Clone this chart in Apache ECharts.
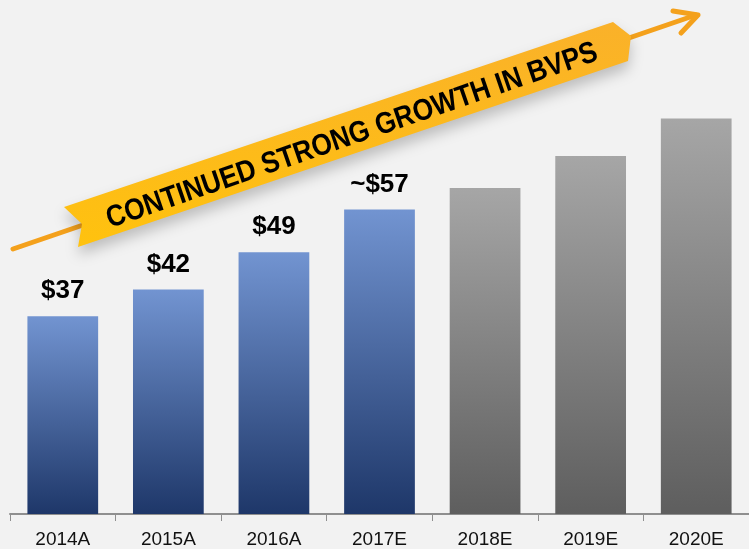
<!DOCTYPE html>
<html>
<head>
<meta charset="utf-8">
<script src="https://cdn.jsdelivr.net/npm/echarts@6/dist/echarts.min.js"></script>
<style>
  html, body { margin: 0; padding: 0; background: #f2f2f2; }
  #bvps { width: 749px; height: 549px; }
</style>
</head>
<body>
<div id="bvps"></div>
<script>
// categories and book value per share
var categories = ['2014A', '2015A', '2016A', '2017E', '2018E', '2019E', '2020E']
var bvps = [37, 42, 49, 57, 61, 67, 74] // forecast bars
var valueLabels = ['$37', '$42', '$49', '~$57', '', '', '']
var isForecast = [false, false, false, false, true, true, true]

var font = '"Liberation Sans", Arial, sans-serif'

function barColor (forecast) {
  // gradient goes from top of each bar to bottom
  if (forecast) {
    return new echarts.graphic.LinearGradient(0, 0, 0, 1, [
      { offset: 0, color: '#a6a6a6' },
      { offset: 1, color: '#5e5e5e' }
    ])
  }
  return new echarts.graphic.LinearGradient(0, 0, 0, 1, [
    { offset: 0, color: '#7294d1' },
    { offset: 1, color: '#1e3769' }
  ])
}

var myChart = echarts.init(document.getElementById('bvps'))
var option = {
  backgroundColor: '#f2f2f2',
  animation: false,
  // plot runs a little past the right edge, like the slide
  grid: { left: 10, width: 746, top: 1, bottom: 35, containLabel: false },
  xAxis: {
    type: 'category',
    data: categories,
    axisLine: { lineStyle: { color: '#8f8f8f', width: 2 } },
    axisTick: { show: true, length: 7, lineStyle: { color: '#8f8f8f', width: 1 } },
    axisLabel: { color: '#111', fontSize: 19, fontFamily: font, margin: 16 }
  },
  yAxis: {
    type: 'value',
    min: 0,
    max: 96,
    show: false,
    splitLine: { show: false }
  },
  series: [{
    type: 'bar',
    barWidth: '67%',
    data: bvps.map(function (v, i) {
      return { value: v, itemStyle: { color: barColor(isForecast[i]) } }
    }),
    label: {
      show: true,
      position: 'top',
      distance: 12,
      color: '#000',
      fontSize: 26,
      fontWeight: 'bold',
      fontFamily: font,
      formatter: function (p) { return valueLabels[p.dataIndex] }
    }
  }],
  graphic: [
    // growth arrow
    {
      type: 'polyline',
      z: 10,
      shape: { points: [[13, 249], [696, 15]] },
      style: { stroke: '#f4a11c', lineWidth: 5, lineCap: 'round' }
    },
    {
      type: 'polyline',
      z: 10,
      shape: { points: [[673, 11], [698, 15], [681, 33]] },
      style: { stroke: '#f4a11c', lineWidth: 5, lineCap: 'round', lineJoin: 'round', fill: null }
    },
    // ribbon banner
    {
      type: 'polygon',
      z: 11,
      shape: {
        points: [[64, 207], [82, 224], [78, 247], [628, 61], [631, 36], [613, 22]]
      },
      style: {
        fill: new echarts.graphic.LinearGradient(0, 0, 0, 1, [
          { offset: 0, color: '#fab12a' },
          { offset: 1, color: '#ffc20e' }
        ]),
        shadowBlur: 14,
        shadowColor: 'rgba(0,0,0,0.22)',
        shadowOffsetY: 8
      }
    },
    {
      type: 'text',
      z: 12,
      x: 352,
      y: 136,
      rotation: 19 * Math.PI / 180,
      scaleX: 0.88,
      style: {
        text: 'CONTINUED STRONG GROWTH IN BVPS',
        font: 'bold 30px ' + font,
        fill: '#000',
        align: 'center',
        verticalAlign: 'middle',
        textAlign: 'center',
        textVerticalAlign: 'middle'
      }
    }
  ]
}
myChart.setOption(option)
</script>
</body>
</html>
